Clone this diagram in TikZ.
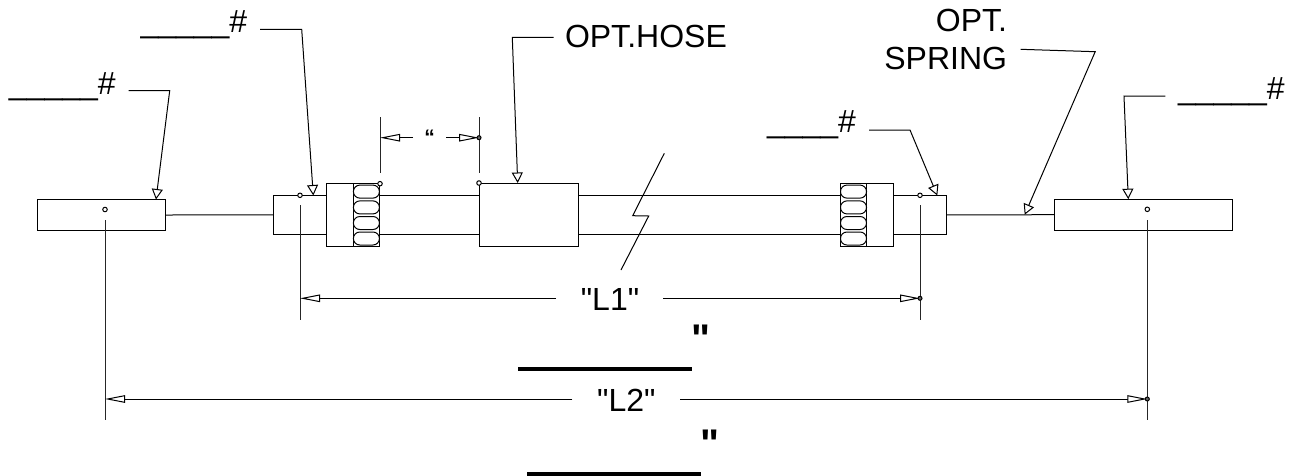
\documentclass[tikz,border=0pt]{standalone}
\usepackage{fontspec}
\setmainfont{Liberation Sans}
\newfontfamily\plainf{Liberation Sans}
\usetikzlibrary{arrows.meta}
\tikzset{
  ln/.style={draw=black,line width=1pt},
  part/.style={ln,fill=white,rectangle,inner sep=0pt,outer sep=0pt,anchor=center},
  pad/.style={part,rounded corners=6.4pt,minimum width=26pt,minimum height=13pt},
  pin/.style={circle,draw=black,line width=1pt,fill=white,inner sep=0pt,minimum size=4.5pt,outer sep=0pt},
  ext/.style={draw=black!85,line width=1pt},
  dimline/.style={ln,-{Triangle[length=20pt,width=7.5pt,fill=white,line width=1pt]}},
  leader/.style={ln,line join=miter,-{Triangle[length=10.5pt,width=11pt,fill=white,line width=1pt]}},
  lab/.style={inner sep=0pt,outer sep=0pt,font=\plainf\fontsize{32}{36}\selectfont},
  heavy/.style={inner sep=0pt,outer sep=0pt,font=\plainf\bfseries\fontsize{40}{40}\selectfont},
  heavyrule/.style={draw=black,line width=3.7pt}
}
\begin{document}
\begin{tikzpicture}[x=1pt,y=-1pt]
\useasboundingbox (0,0) rectangle (1294,475);
% springs / wires
\node[part,minimum width=127.5pt,minimum height=31pt] (lbox) at (101.25,215) {};
\node[part,minimum width=177.5pt,minimum height=31pt] (rbox) at (1143.5,214.7) {};
\node[part,minimum width=673.4pt,minimum height=38.8pt] (body) at (610,214.9) {};
\draw[ln] (lbox.east) -- (body.west);
\draw[ln] (body.east) -- (rbox.west);
% nuts
\node[part,minimum width=53pt,minimum height=62.3pt] (lnut) at (353.2,214.85) {};
\node[part,minimum width=53.3pt,minimum height=62.3pt] (rnut) at (866.65,214.85) {};
\draw[ln] (lnut.north) -- (lnut.south);
\draw[ln] (rnut.north) -- (rnut.south);
\node[pad] (la) at (366.4,191.6) {};
\node[pad] (lb) at (366.4,207.4) {};
\node[pad] (lc) at (366.4,223) {};
\node[pad] (ld) at (366.4,238.5) {};
\node[pad] (ra) at (853.5,191.6) {};
\node[pad] (rb) at (853.5,207.4) {};
\node[pad] (rc) at (853.5,223) {};
\node[pad] (rd) at (853.5,238.5) {};
% hose
\node[part,minimum width=99.7pt,minimum height=63.7pt] (hose) at (528.85,214.85) {};
% break mark
\coordinate (brA) at (664.3,153.3);
\coordinate (brB) at (632.7,215.7);
\coordinate (brC) at (648.7,216);
\coordinate (brD) at (621,270);
\draw[ln,line join=miter] (brA) -- (brB) -- (brC) -- (brD);
% extension lines
\coordinate (e1a) at (300,205.3); \coordinate (e1b) at (300,319.5);
\coordinate (e2a) at (920,205.3); \coordinate (e2b) at (920,319.5);
\coordinate (e3a) at (105,220); \coordinate (e3b) at (105,420);
\coordinate (e4a) at (1147.3,220); \coordinate (e4b) at (1147.3,420);
\coordinate (e5a) at (380,117); \coordinate (e5b) at (380,172.7);
\coordinate (e6a) at (479,117); \coordinate (e6b) at (479,172.7);
\draw[ext] (e1a) -- (e1b);
\draw[ext] (e2a) -- (e2b);
\draw[ext] (e3a) -- (e3b);
\draw[ext] (e4a) -- (e4b);
\draw[ext] (e5a) -- (e5b);
\draw[ext] (e6a) -- (e6b);
% pins
\node[pin] (p1) at (105,209.5) {};
\node[pin] (p2) at (300,195.3) {};
\node[pin] (p3) at (920,195.3) {};
\node[pin] (p4) at (1147.3,209.3) {};
\node[pin] (p5) at (380,183.7) {};
\node[pin] (p6) at (479,183) {};
% dimension tips
\coordinate (d0L) at (380,137.7);
\coordinate (d0R) at (479,137.7);
\coordinate (d0a) at (413,137.7);
\coordinate (d0b) at (446,137.7);
\coordinate (d1L) at (300,298.3);
\coordinate (d1R) at (920,298.3);
\coordinate (d1a) at (556,298.3);
\coordinate (d1b) at (663,298.3);
\coordinate (d2L) at (105,399);
\coordinate (d2R) at (1147.3,399);
\coordinate (d2a) at (572.3,399);
\coordinate (d2b) at (680,399);
\draw[dimline] (d0a) -- (d0L);
\draw[dimline] (d0b) -- (d0R);
\draw[dimline] (d1a) -- (d1L);
\draw[dimline] (d1b) -- (d1R);
\draw[dimline] (d2a) -- (d2L);
\draw[dimline] (d2b) -- (d2R);
\node[pin,minimum size=4pt,fill=black!60] (p7) at (d0R) {};
\node[pin,minimum size=4pt,fill=black!60] (p8) at (d1R) {};
\node[pin,minimum size=4pt,fill=black!60] (p9) at (d2R) {};
% leaders
\coordinate (t1) at (156,199.5);
\coordinate (t2) at (313.3,195.5);
\coordinate (t3) at (517.7,183);
\coordinate (t4) at (937.3,195.5);
\coordinate (t5) at (1024.7,214.7);
\coordinate (t6) at (1128.3,199.2);
\draw[leader] (128.7,90.7) -- (169.7,90.7) -- (t1);
\draw[leader] (260,29.3) -- (301.7,29.3) -- (t2);
\draw[leader] (553.7,37.3) -- (512.3,37.3) -- (t3);
\draw[leader] (869,130) -- (910,130) -- (t4);
\draw[leader] (1020.6,49.3) -- (1095.2,51.7) -- (t5);
\draw[leader] (1165.3,96.1) -- (1124,96.1) -- (t6);
% labels
\node[lab,anchor=base west] (n1) at (9,94) {\_\_\_\_\_\#};
\node[lab,anchor=base west] (n2) at (140.5,32) {\_\_\_\_\_\#};
\node[lab,anchor=base west] (n3) at (767,132) {\_\_\_\_\#};
\node[lab,anchor=base west] (n4) at (1178,99) {\_\_\_\_\_\#};
\node[lab,anchor=base west] (n5) at (565,47.5) {OPT.HOSE};
\node[lab,anchor=south east,align=right,text depth=0pt] (n6) at (1007,69.4) {OPT.\\[1.5pt]SPRING};
\node[lab,anchor=base] (n7) at (610,310.7) {"L1"};
\node[lab,anchor=base] (n8) at (626.3,411.7) {"L2"};
\node[heavy,anchor=base] (n9) at (700.7,352) {"};
\node[heavy,anchor=base] (n10) at (709.7,457) {"};
\node[inner sep=0pt,outer sep=0pt,font=\plainf\bfseries\fontsize{21}{21}\selectfont,anchor=base] (n11) at (429.5,144) {“};
\coordinate (r1a) at (518,368.9); \coordinate (r1b) at (692,368.9);
\coordinate (r2a) at (527,473.7); \coordinate (r2b) at (701,473.7);
\draw[heavyrule] (r1a) -- (r1b);
\draw[heavyrule] (r2a) -- (r2b);
\end{tikzpicture}
\end{document}
